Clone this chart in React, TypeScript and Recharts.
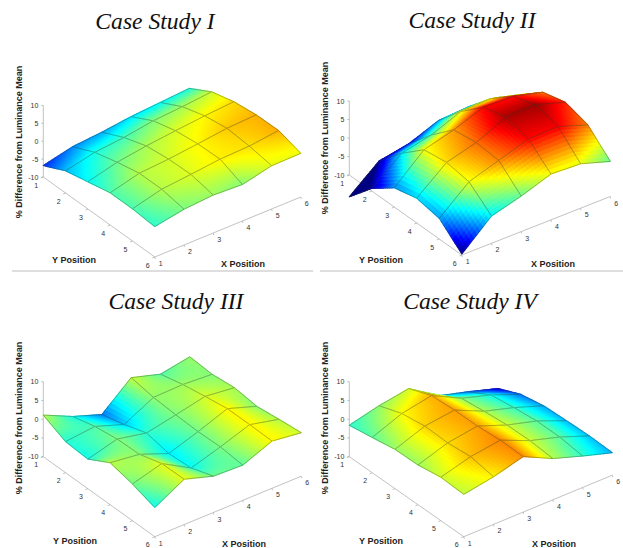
import { ComposedChart, Scatter, XAxis, YAxis, ReferenceLine } from 'recharts';

// z values, zValues[i][j] -> X position i+1, Y position j+1
const caseOne = [
  [-6.8, -3.8, -2.4, -1.0, -1.0, -1.5],
  [-4.9, -2.0, -0.3, 1.1, 1.1, 0.0],
  [-4.2, -1.2, 0.9, 1.7, 1.9, 0.6],
  [-3.2, 0.1, 1.8, 2.6, 2.8, 0.2],
  [-2.6, 0.7, 2.6, 3.6, 3.1, 2.1],
  [-2.0, 1.5, 3.2, 4.0, 4.1, 2.2],
];
const caseTwo = [
  [-15.9, -9.3, -4.8, -3.3, -4.4, -9.7],
  [-9.4, -3.0, 2.3, 3.2, 2.3, -2.6],
  [-7.9, -1.2, 4.5, 5.4, 4.9, -0.4],
  [-4.8, 2.0, 7.5, 9.1, 7.5, 2.4],
  [-4.3, 2.3, 7.2, 9.3, 7.7, 2.0],
  [-4.9, 0.2, 5.2, 6.8, 5.0, -0.5],
];
const caseThree = [
  [1.1, -1.7, -2.1, 1.2, -0.2, -2.2],
  [-2.5, -0.9, 0.0, 0.2, 2.0, 2.1],
  [-5.2, -3.6, -1.6, -2.8, -2.4, -0.3],
  [1.4, 0.4, 0.0, -0.2, 0.0, -0.6],
  [-0.9, 0.6, 1.7, 2.7, 2.7, 2.6],
  [0.5, 0.1, 0.8, 0.1, 0.9, 1.6],
];
const caseFour = [
  [-1.6, -0.6, 0.5, 0.6, 1.6, 1.3],
  [0.3, 2.5, 3.4, 3.2, 3.8, 2.7],
  [1.6, 4.0, 4.4, 4.4, 4.9, 4.8],
  [-3.6, 0.0, 0.8, 1.4, 1.5, 1.0],
  [-5.8, -2.4, -1.5, -0.8, -0.8, -1.6],
  [-8.2, -5.5, -4.3, -4.0, -3.8, -4.0],
];

const xTicks = [1, 2, 3, 4, 5, 6];
const yTicks = [1, 2, 3, 4, 5, 6];
const zTicks = [-10, -5, 0, 5, 10];

const WIDTH = 623;
const HEIGHT = 548;
const SUB = 10; // shading steps per mesh cell

interface Panel {
  title: string;
  z: number[][];
  ox: number; oy: number; // corner x=1, y=1, z=-10
  xu: [number, number]; // one step along X
  yu: [number, number]; // one step along Y
  zs: number; // pixels per z unit
  titlePos: [number, number];
  zLabel: [number, number];
  yLabel: [number, number];
  xLabel: [number, number];
}

const panels: Panel[] = [
  { title: 'Case Study I', z: caseOne, ox: 43.3, oy: 177, xu: [29.2, -12], yu: [22.3, 16], zs: 3.58, titlePos: [155, 21], zLabel: [19, 142], yLabel: [74, 260], xLabel: [243, 264] },
  { title: 'Case Study II', z: caseTwo, ox: 349.3, oy: 175, xu: [29.7, -11.7], yu: [22.5, 16], zs: 3.7, titlePos: [472, 20], zLabel: [325, 138], yLabel: [381, 260], xLabel: [553, 264] },
  { title: 'Case Study III', z: caseThree, ox: 43.3, oy: 456.7, xu: [29.3, -12.1], yu: [22.3, 16], zs: 3.75, titlePos: [176, 301], zLabel: [19, 418], yLabel: [75, 541], xLabel: [244, 543.5] },
  { title: 'Case Study IV', z: caseFour, ox: 349.3, oy: 456.7, xu: [29.7, -12.3], yu: [22.9, 16], zs: 3.75, titlePos: [470, 301], zLabel: [325, 418], yLabel: [381, 541], xLabel: [554, 543.5] },
];

const project = (p: Panel, x: number, y: number, z: number) => ({
  sx: p.ox + (x - 1) * p.xu[0] + (y - 1) * p.yu[0],
  sy: p.oy + (x - 1) * p.xu[1] + (y - 1) * p.yu[1] - (z + 10) * p.zs,
});

// matlab jet over the -10..10 colour range
const jet = (z: number) => {
  const t = Math.min(1, Math.max(0, (z + 10) / 20));
  const ch = (c: number) => Math.round(255 * Math.min(1, Math.max(0, 1.5 - Math.abs(4 * t - c))));
  return `rgb(${ch(3)},${ch(2)},${ch(1)})`;
};

// far cells first so the near ones paint over them
const buildCells = (p: Panel) => {
  const cells: any[] = [];
  for (let i = 4; i >= 0; i--) {
    for (let j = 0; j < 5; j++) {
      const c = project(p, i + 1, j + 1, p.z[i][j]);
      cells.push({ ...c, i, j, panel: p });
    }
  }
  return cells;
};

// the anchor point comes through the chart's scales, the rest is relative to it
function CellShape(props: any) {
  const { cx, cy, payload } = props;
  const { i, j, panel: p } = payload;
  const dx = cx - payload.sx;
  const dy = cy - payload.sy;
  const zAt = (u: number, v: number) =>
    p.z[i][j] * (1 - u) * (1 - v) + p.z[i + 1][j] * u * (1 - v) + p.z[i][j + 1] * (1 - u) * v + p.z[i + 1][j + 1] * u * v;
  const pt = (u: number, v: number) => {
    const q = project(p, i + 1 + u, j + 1 + v, zAt(u, v));
    return `${(q.sx + dx).toFixed(2)},${(q.sy + dy).toFixed(2)}`;
  };
  const quads = [];
  // step through the patch from its far corner
  for (let a = SUB - 1; a >= 0; a--) {
    for (let b = 0; b < SUB; b++) {
      const u0 = a / SUB, u1 = (a + 1) / SUB, v0 = b / SUB, v1 = (b + 1) / SUB;
      const col = jet(zAt((u0 + u1) / 2, (v0 + v1) / 2));
      quads.push(
        <polygon key={`${a}-${b}`} points={`${pt(u0, v0)} ${pt(u1, v0)} ${pt(u1, v1)} ${pt(u0, v1)}`} fill={col} stroke={col} strokeWidth={1.1} strokeLinejoin="round" />
      );
    }
  }
  return (
    <g>
      {quads}
      <polygon points={`${pt(0, 0)} ${pt(1, 0)} ${pt(1, 1)} ${pt(0, 1)}`} fill="none" stroke="#2a3a2a" strokeOpacity={0.6} strokeWidth={0.6} />
    </g>
  );
}

function TickLabel(props: any) {
  const { cx, cy, payload } = props;
  return (
    <text x={cx + payload.dx} y={cy + payload.dy} textAnchor={payload.anchor} dominantBaseline="central" fontFamily="'Liberation Sans', sans-serif" fontSize={7} fill="#333">
      {payload.text}
    </text>
  );
}

function TitleLabel(props: any) {
  const { cx, cy, payload } = props;
  if (payload.kind === 'title') {
    return <text x={cx} y={cy} textAnchor="middle" dominantBaseline="central" fontFamily="'Liberation Serif', serif" fontStyle="italic" fontSize={23.6} fill="#111">{payload.text}</text>;
  }
  return (
    <text x={cx} y={cy} textAnchor="middle" dominantBaseline="central" fontFamily="'Liberation Sans', sans-serif" fontWeight="bold" fontSize={9} fill="#222"
      transform={payload.kind === 'z' ? `rotate(-90 ${cx} ${cy})` : undefined}>
      {payload.text}
    </text>
  );
}

const tickRows = (p: Panel) => [
  ...zTicks.map((t) => ({ ...project(p, 1, 1, t), text: String(t), dx: -5, dy: 0, anchor: 'end' })),
  ...yTicks.map((t) => ({ ...project(p, 1, t, -10), text: String(t), dx: -7, dy: 8, anchor: 'middle' })),
  ...xTicks.map((t) => ({ ...project(p, t, 6, -10), text: String(t), dx: 6, dy: 6.5, anchor: 'middle' })),
];

const labelRows = (p: Panel) => [
  { sx: p.titlePos[0], sy: p.titlePos[1], text: p.title, kind: 'title' },
  { sx: p.zLabel[0], sy: p.zLabel[1], text: '% Difference from Luminance Mean', kind: 'z' },
  { sx: p.yLabel[0], sy: p.yLabel[1], text: 'Y Position', kind: 'axis' },
  { sx: p.xLabel[0], sy: p.xLabel[1], text: 'X Position', kind: 'axis' },
];

const seg = (a: { sx: number; sy: number }, b: { sx: number; sy: number }) =>
  [{ x: a.sx, y: a.sy }, { x: b.sx, y: b.sy }] as any;

const axisSegments = (p: Panel) => {
  const out: any[] = [
    seg(project(p, 1, 1, -10), project(p, 1, 1, 10)),
    seg(project(p, 1, 1, -10), project(p, 1, 6, -10)),
    seg(project(p, 1, 6, -10), project(p, 6, 6, -10)),
  ];
  zTicks.forEach((t) => {
    const q = project(p, 1, 1, t);
    out.push(seg(q, { sx: q.sx - 2, sy: q.sy }));
  });
  yTicks.forEach((t) => {
    const q = project(p, 1, t, -10);
    out.push(seg(q, { sx: q.sx - 2.5, sy: q.sy + 1 }));
  });
  xTicks.forEach((t) => {
    const q = project(p, t, 6, -10);
    out.push(seg(q, { sx: q.sx + 0.5, sy: q.sy + 2 }));
  });
  return out;
};

const dividers = [
  [{ x: 12, y: 271 }, { x: 313, y: 271 }],
  [{ x: 320, y: 271 }, { x: 623, y: 271 }],
] as any[];

export default function App() {
  return (
    <div style={{ position: 'absolute', left: 0, top: 0, width: WIDTH, height: HEIGHT, background: '#fff' }}>
      <ComposedChart width={WIDTH} height={HEIGHT} margin={{ top: 0, right: 0, bottom: 0, left: 0 }}>
        <XAxis type="number" dataKey="sx" domain={[0, WIDTH]} hide allowDataOverflow />
        <YAxis type="number" dataKey="sy" domain={[0, HEIGHT]} reversed hide allowDataOverflow width={0} />
        {dividers.map((d, k) => (
          <ReferenceLine key={k} segment={d} stroke="#bdbdbd" strokeWidth={1} ifOverflow="visible" />
        ))}
        {panels.flatMap((p) =>
          axisSegments(p).map((s, k) => (
            <ReferenceLine key={`${p.title}-${k}`} segment={s} stroke="#a8a8a8" strokeWidth={0.7} ifOverflow="visible" />
          ))
        )}
        {panels.map((p) => (
          <Scatter key={`${p.title}-surface`} data={buildCells(p)} shape={CellShape} isAnimationActive={false} />
        ))}
        {panels.map((p) => (
          <Scatter key={`${p.title}-ticks`} data={tickRows(p)} shape={TickLabel} isAnimationActive={false} />
        ))}
        {panels.map((p) => (
          <Scatter key={`${p.title}-labels`} data={labelRows(p)} shape={TitleLabel} isAnimationActive={false} />
        ))}
      </ComposedChart>
    </div>
  );
}
